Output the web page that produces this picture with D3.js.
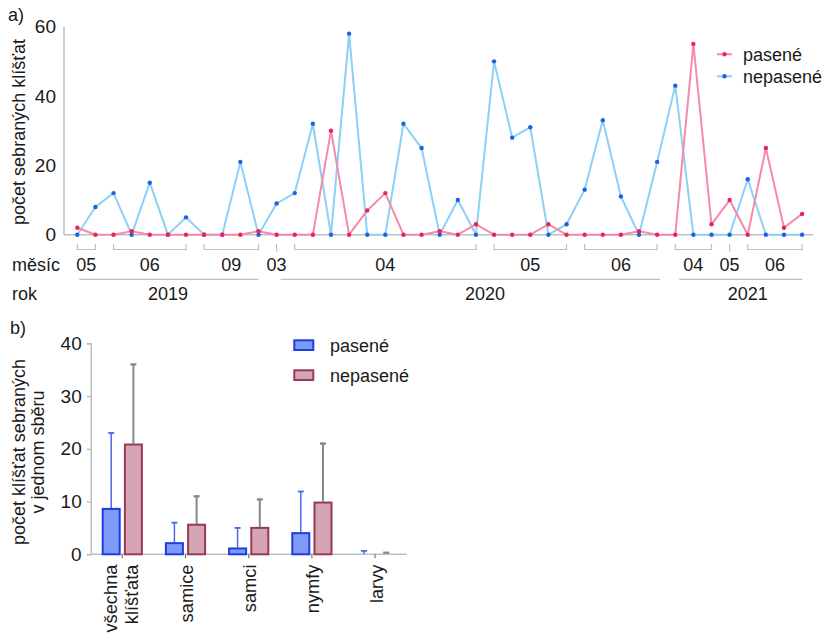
<!DOCTYPE html>
<html>
<head>
<meta charset="utf-8">
<script src="https://cdn.jsdelivr.net/npm/d3@7"></script>
<style>
  html, body { margin: 0; padding: 0; background: #ffffff; }
  svg { display: block; }
  text { font-family: "Liberation Sans", Arial, Helvetica, sans-serif; fill: #1a1a1a; }
</style>
</head>
<body>
<svg id="chart" width="826" height="635"></svg>
<script>
// ---------- DATA: panel a) ----------
const pasene = [2,0,0,1,0,0,0,0,0,0,1,0,0,0,30,0,7,12,0,0,1,0,3,0,0,0,3,0,0,0,0,1,0,0,55,3,10,0,25,2,6];
const nepasene = [0,8,12,0,15,0,5,0,0,21,0,9,12,32,0,58,0,0,32,25,0,10,0,50,28,31,0,3,13,33,11,0,21,43,0,0,0,16,0,0,0];
const yTicksA = [0, 20, 40, 60];
const monthLabels = ["05","06","09","03","04","05","06","04","05","06"];
const monthStart  = [0, 2, 7, 11, 12, 23, 28, 33, 36, 37];
const monthEnd    = [1, 6, 10, 11, 22, 27, 32, 35, 36, 40];
const yearLabels = ["2019","2020","2021"];
const yearStart  = [0, 11, 33];
const yearEnd    = [10, 32, 40];
const yearLabelIdx = [5, 22.5, 37];
const seriesNamesA = ["pasené", "nepasené"];

// ---------- DATA: panel b) ----------
const categories = ["všechna klíšťata","samice","samci","nymfy","larvy"];
const categoryLines = [["všechna","klíšťata"],["samice"],["samci"],["nymfy"],["larvy"]];
const barPasene = [8.8, 2.3, 1.3, 4.2, 0.05];
const errPasene = [14.2, 3.7, 3.7, 7.7, 0.6];
const barNepasene = [21, 5.8, 5.2, 10, 0.1];
const errNepasene = [15, 5.2, 5.2, 11, 0.2];
const yTicksB = [0, 10, 20, 30, 40];
const seriesNamesB = ["pasené", "nepasené"];

// ---------- styles ----------
const axisGray = "#b9c1c1";
const pinkLine = "#f58aab", pinkDot = "#ea2455";
const blueLine = "#8dd0f7", blueDot = "#1b62e4";
const blueFill = "#7e9cf7", blueStroke = "#1d3ce4", blueErr = "#4e68e6";
const roseFill = "#d5a5b3", roseStroke = "#983955", roseErr = "#7f8b89";

const svg = d3.select("#chart");

// =============== PANEL A ===============
const xA = d3.scaleLinear().domain([0, pasene.length - 1]).range([77.3, 802.1]);
const yA = d3.scaleLinear().domain([0, 60]).range([234.7, 26.7]);
const gA = svg.append("g");

// axes
gA.append("line").attr("x1", 64).attr("x2", 64).attr("y1", yA(60)).attr("y2", yA(0))
  .attr("stroke", axisGray).attr("stroke-width", 1.5);
gA.append("line").attr("x1", 64).attr("x2", 813).attr("y1", yA(0)).attr("y2", yA(0))
  .attr("stroke", axisGray).attr("stroke-width", 1.5);
const axA = gA.append("g").attr("transform", "translate(64,0)")
  .call(d3.axisLeft(yA).tickValues(yTicksA).tickSize(0).tickPadding(8));
axA.select(".domain").remove();
axA.selectAll("text").attr("font-size", 19).attr("fill", "#1a1a1a")
  .style("font-family", '"Liberation Sans", Arial, sans-serif');

// lines
const lineGen = d3.line().x((d, i) => xA(i)).y(d => yA(d));
function drawSeries(vals, lc, dc) {
  gA.append("path").datum(vals).attr("d", lineGen).attr("fill", "none")
    .attr("stroke", lc).attr("stroke-width", 2).attr("stroke-linejoin", "round");
  gA.selectAll(null).data(vals).enter().append("circle")
    .attr("cx", (d, i) => xA(i)).attr("cy", d => yA(d)).attr("r", 2.2).attr("fill", dc);
}
drawSeries(nepasene, blueLine, blueDot);
drawSeries(pasene, pinkLine, pinkDot);

// month brackets
const bTop = 244, bBot = 249.5;
monthLabels.forEach((lab, k) => {
  const x0 = xA(monthStart[k]), x1 = xA(monthEnd[k]);
  if (monthStart[k] === monthEnd[k]) {
    gA.append("line").attr("x1", x0).attr("x2", x0).attr("y1", bTop).attr("y2", bBot + 2)
      .attr("stroke", axisGray).attr("stroke-width", 1.2);
  } else {
    gA.append("path").attr("d", `M${x0},${bTop}V${bBot}H${x1}V${bTop}`)
      .attr("fill", "none").attr("stroke", axisGray).attr("stroke-width", 1.2);
  }
  gA.append("text").attr("x", (x0 + x1) / 2).attr("y", 271).attr("text-anchor", "middle")
    .attr("font-size", 18).text(lab);
});
gA.append("text").attr("x", 12).attr("y", 271).attr("font-size", 18).text("měsíc");

// year lines
yearLabels.forEach((lab, k) => {
  gA.append("line").attr("x1", xA(yearStart[k]) + (k === 0 ? 2 : 4)).attr("x2", xA(yearEnd[k]) + (k === 1 ? 3 : 0))
    .attr("y1", 279.3).attr("y2", 279.3).attr("stroke", axisGray).attr("stroke-width", 1.2);
  gA.append("text").attr("x", xA(yearLabelIdx[k])).attr("y", 300).attr("text-anchor", "middle")
    .attr("font-size", 18).text(lab);
});
gA.append("text").attr("x", 12).attr("y", 300).attr("font-size", 18).text("rok");

// title & y label
gA.append("text").attr("x", 8).attr("y", 21).attr("font-size", 18).text("a)");
gA.append("text").attr("transform", "translate(19,132) rotate(-90)").attr("text-anchor", "middle")
  .attr("dy", "0.35em").attr("font-size", 18).text("počet sebraných klíšťat");

// legend
[[pinkLine, pinkDot, 54.3], [blueLine, blueDot, 76.3]].forEach((c, k) => {
  gA.append("line").attr("x1", 717).attr("x2", 732).attr("y1", c[2]).attr("y2", c[2])
    .attr("stroke", c[0]).attr("stroke-width", 2);
  gA.append("circle").attr("cx", 724.5).attr("cy", c[2]).attr("r", 2.2).attr("fill", c[1]);
  gA.append("text").attr("x", 743).attr("y", c[2] + 6.5).attr("font-size", 18).text(seriesNamesA[k]);
});

// =============== PANEL B ===============
const xB = d3.scaleBand().domain(categories).range([90.7, 406.7]).padding(0);
const yB = d3.scaleLinear().domain([0, 40]).range([554.3, 343.3]);
const gB = svg.append("g");

gB.append("text").attr("x", 10).attr("y", 334).attr("font-size", 18).text("b)");

// y axis
const axB = gB.append("g").attr("transform", "translate(90.7,0)")
  .call(d3.axisLeft(yB).tickValues(yTicksB).tickSize(4).tickPadding(5));
axB.select(".domain").attr("stroke", axisGray).attr("stroke-width", 1.5);
axB.selectAll(".tick line").attr("stroke", axisGray).attr("stroke-width", 1.5);
axB.selectAll("text").attr("font-size", 19).attr("fill", "#1a1a1a")
  .style("font-family", '"Liberation Sans", Arial, sans-serif');

// x axis
const axXB = gB.append("g").attr("transform", `translate(0,${yB(0)})`)
  .call(d3.axisBottom(xB).tickSize(4).tickFormat(""));
axXB.select(".domain").attr("stroke", axisGray).attr("stroke-width", 1.5)
  .attr("d", `M90.7,0H406.7`);
axXB.selectAll(".tick line").attr("stroke", "#707878").attr("stroke-width", 1.2);

// bars
const bw = 19, gap = 1.6, sw = 2;
function drawBars(vals, errs, side, fill, stroke, ecol, ew) {
  categories.forEach((c, i) => {
    const cx = xB(c) + xB.bandwidth() / 2;
    const x0 = side < 0 ? cx - gap - bw : cx + gap;
    const mid = x0 + bw / 2;
    const top = yB(vals[i] + errs[i]);
    gB.append("line").attr("x1", mid).attr("x2", mid).attr("y1", yB(vals[i])).attr("y2", top)
      .attr("stroke", ecol).attr("stroke-width", ew);
    gB.append("line").attr("x1", mid - 3).attr("x2", mid + 3).attr("y1", top).attr("y2", top)
      .attr("stroke", ecol).attr("stroke-width", ew + 0.3);
    const h = yB(0) - yB(vals[i]);
    gB.append("rect").attr("x", x0 + sw / 2).attr("y", yB(vals[i]) + sw / 2)
      .attr("width", bw - sw).attr("height", Math.max(0, h - sw / 2))
      .attr("fill", fill).attr("stroke", stroke).attr("stroke-width", sw);
  });
}
drawBars(barPasene, errPasene, -1, blueFill, blueStroke, blueErr, 1.5);
drawBars(barNepasene, errNepasene, 1, roseFill, roseStroke, roseErr, 2);

// category labels
categories.forEach((c, i) => {
  const cx = xB(c) + xB.bandwidth() / 2;
  const lines = categoryLines[i];
  const offs = lines.length === 2 ? [-12, 9] : [1];
  lines.forEach((t, j) => {
    gB.append("text").attr("transform", `translate(${cx + offs[j]},564.5) rotate(-90)`)
      .attr("text-anchor", "end").attr("dy", "0.35em").attr("font-size", 18.3).text(t);
  });
});

// y title
gB.append("text").attr("transform", "translate(19,452) rotate(-90)").attr("text-anchor", "middle")
  .attr("dy", "0.35em").attr("font-size", 18).text("počet klíšťat sebraných");
gB.append("text").attr("transform", "translate(37.5,452) rotate(-90)").attr("text-anchor", "middle")
  .attr("dy", "0.35em").attr("font-size", 18).text("v jednom sběru");

// legend
[[blueFill, blueStroke, 339.3], [roseFill, roseStroke, 369.3]].forEach((c, k) => {
  gB.append("rect").attr("x", 294.3).attr("y", c[2] + 1).attr("width", 19).attr("height", 9.7)
    .attr("fill", c[0]).attr("stroke", c[1]).attr("stroke-width", 2);
  gB.append("text").attr("x", 330).attr("y", c[2] + 12.5).attr("font-size", 18).text(seriesNamesB[k]);
});
</script>
</body>
</html>
